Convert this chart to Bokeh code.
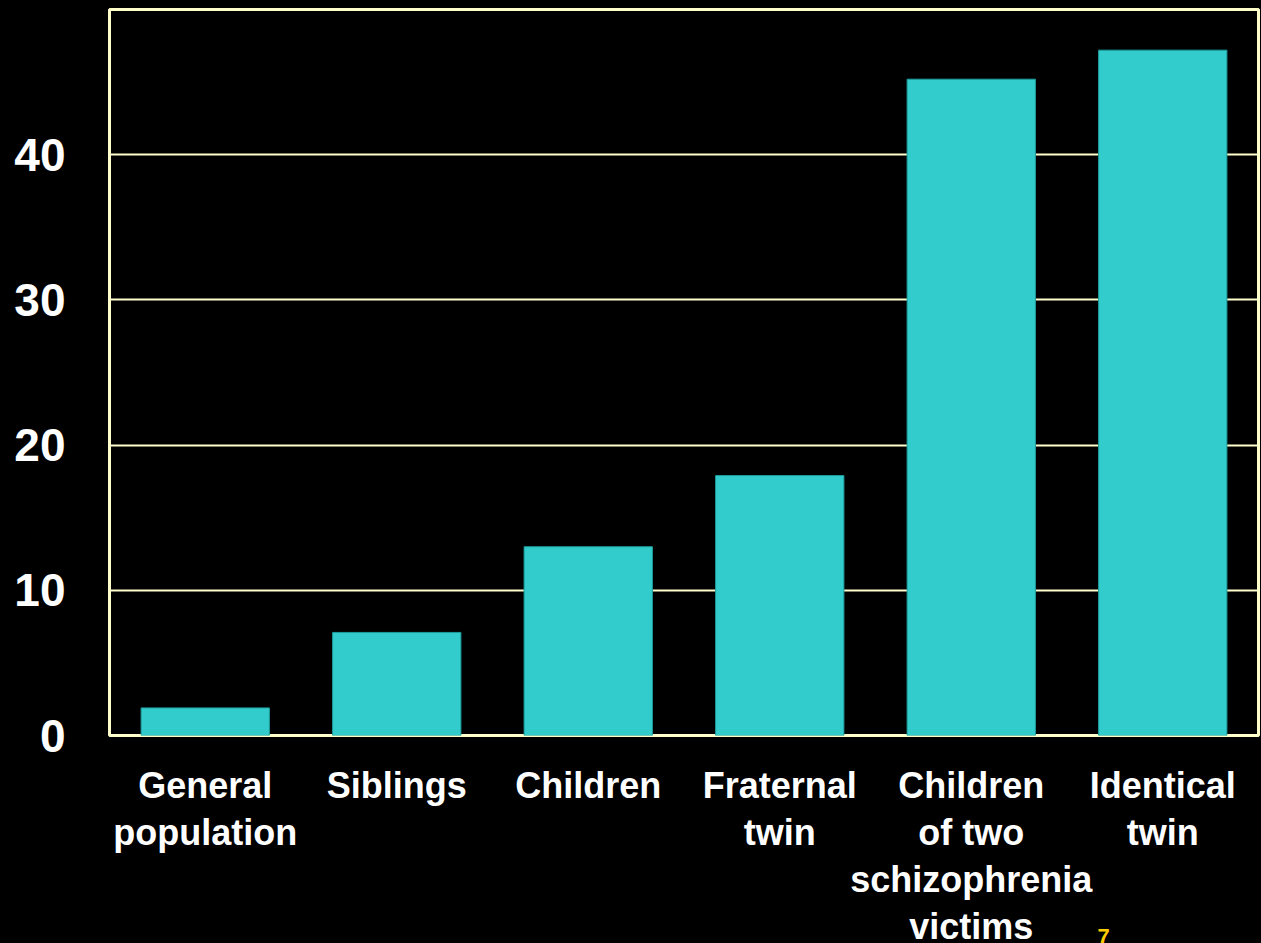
from bokeh.plotting import figure
from bokeh.models import FixedTicker, Label, ColumnDataSource
from bokeh.layouts import column
from bokeh.core.properties import value
from bokeh.embed import file_html
from bokeh.resources import INLINE

categories = ["General population", "Siblings", "Children", "Fraternal twin",
              "Children of two schizophrenia victims", "Identical twin"]
tick_labels = ["General\npopulation", "Siblings", "Children", "Fraternal\ntwin",
               "Children\nof two\nschizophrenia\nvictims", "Identical\ntwin"]
values = [1.9, 7.1, 13.0, 17.9, 45.2, 47.2]
y_ticks = [0, 10, 20, 30, 40]

GRID = "#FFFFCC"
BAR = "#33CCCC"
BG = {"background-color": "black"}

p = figure(x_range=categories, y_range=(0, 50), width=1261, height=760,
           output_backend="svg", toolbar_location=None,
           background_fill_color="black", border_fill_color="black",
           min_border_left=109, min_border_right=3, min_border_top=9,
           min_border_bottom=25, styles=BG)

src = ColumnDataSource(dict(cat=categories, val=values))
p.vbar(x="cat", top="val", width=0.67, source=src,
       fill_color=BAR, line_color="#1E9E9E", line_width=1)

p.outline_line_color = GRID
p.outline_line_width = 3

p.xgrid.grid_line_color = None
p.ygrid.grid_line_color = GRID
p.ygrid.grid_line_width = 2
p.ygrid.ticker = FixedTicker(ticks=y_ticks)

p.yaxis.ticker = FixedTicker(ticks=y_ticks)
p.yaxis.axis_line_color = None
p.yaxis.major_tick_line_color = None
p.yaxis.minor_tick_line_color = None
p.yaxis.major_tick_out = 0
p.yaxis.major_tick_in = 0
p.yaxis.major_label_standoff = 44
p.yaxis.major_label_text_font = "Liberation Sans"
p.yaxis.major_label_text_font_style = "bold"
p.yaxis.major_label_text_font_size = "46px"
p.yaxis.major_label_text_color = "white"
p.xaxis.visible = False

# category labels (multi-line) in a strip below the plot, sharing the x range
p2 = figure(x_range=p.x_range, y_range=(-183, 0), width=1261, height=183,
            output_backend="svg", toolbar_location=None,
            background_fill_color="black", border_fill_color="black",
            min_border_left=109, min_border_right=3, min_border_top=0,
            min_border_bottom=0, styles=BG)
p2.axis.visible = False
p2.grid.visible = False
p2.outline_line_color = None

lab = ColumnDataSource(dict(cat=categories, txt=tick_labels, y=[-4] * len(categories)))
p2.text(x="cat", y="y", text="txt", source=lab, text_align="center",
        text_baseline="top", text_color="white",
        text_font=value("Liberation Sans"), text_font_style="bold",
        text_font_size="36px", text_line_height=1.15)

p2.add_layout(Label(x=988, y=0, x_units="screen", y_units="screen", text="7",
                    text_color="#FFCC00", text_font="Liberation Sans",
                    text_font_size="22px", text_font_style="bold",
                    text_baseline="bottom"))

layout = column(p, p2, spacing=0, styles=BG)
open("out.html", "w").write(file_html(layout, INLINE))
